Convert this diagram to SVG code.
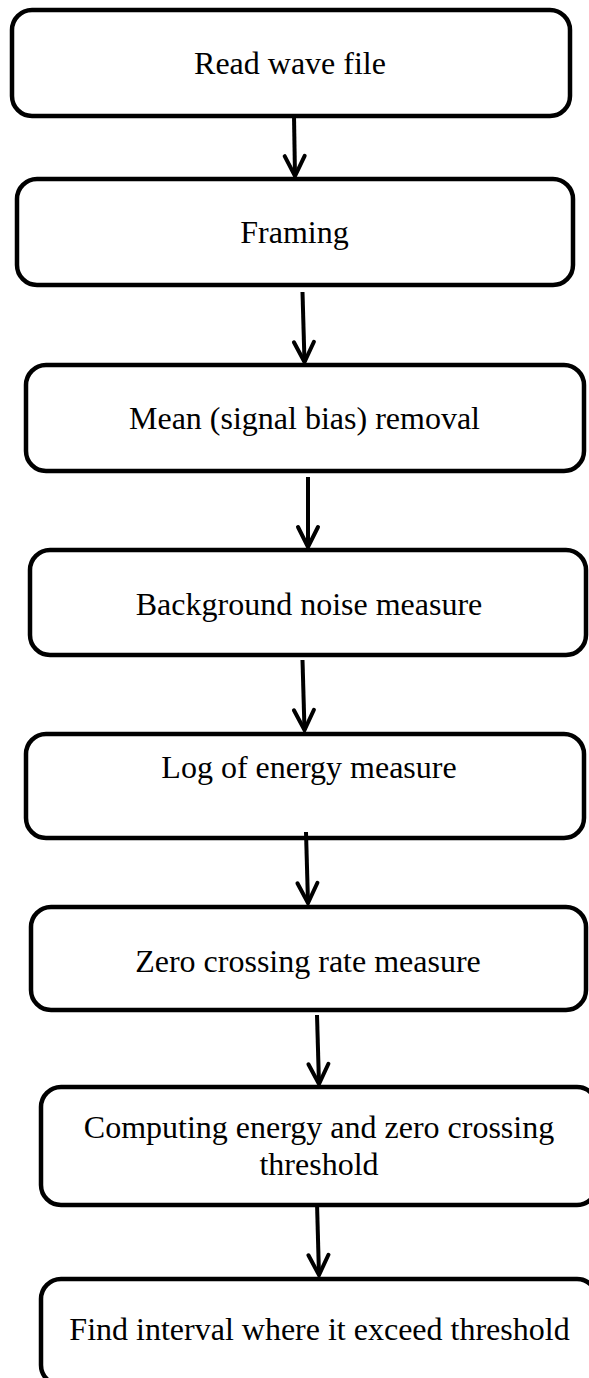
<svg xmlns="http://www.w3.org/2000/svg" width="589" height="1378" viewBox="0 0 589 1378">
  <style>
    .box { fill: #ffffff; stroke: #000000; stroke-width: 4.5; }
    .lbl { font-family: "Liberation Serif", "Times New Roman", serif; font-size: 32px; fill: #000000; text-anchor: middle; }
    .conn { stroke: #000000; stroke-width: 4; fill: none; }
    .head { stroke: #000000; stroke-width: 4; fill: none; stroke-linecap: round; stroke-linejoin: miter; }
  </style>
  <defs>
    <marker id="chev" markerUnits="userSpaceOnUse" viewBox="-26 -14 30 28" refX="0" refY="0" markerWidth="30" markerHeight="28" orient="auto" overflow="visible">
      <path class="head" d="M -20,-10 L 0,0 L -20,10"/>
    </marker>
  </defs>
  <rect width="589" height="1378" fill="#ffffff"/>

  <g id="n1"><rect class="box" x="12" y="10" width="558" height="106" rx="20"/><text class="lbl" x="290" y="74">Read wave file</text></g>
  <g id="n2"><rect class="box" x="17" y="179" width="556" height="106" rx="20"/><text class="lbl" x="294.5" y="243">Framing</text></g>
  <g id="n3"><rect class="box" x="26" y="365" width="558" height="106" rx="20"/><text class="lbl" x="304.5" y="429">Mean (signal bias) removal</text></g>
  <g id="n4"><rect class="box" x="30" y="550" width="556" height="105" rx="20"/><text class="lbl" x="309" y="615">Background noise measure</text></g>
  <g id="n5"><rect class="box" x="26" y="734" width="558" height="104" rx="20"/><text class="lbl" x="309" y="778">Log of energy measure</text></g>
  <g id="n6"><rect class="box" x="31" y="907" width="555" height="103" rx="20"/><text class="lbl" x="308" y="972">Zero crossing rate measure</text></g>
  <g id="n7"><rect class="box" x="41" y="1087" width="556" height="118" rx="20"/><text class="lbl" x="319" y="1138">Computing energy and zero crossing</text><text class="lbl" x="319" y="1175">threshold</text></g>
  <g id="n8"><rect class="box" x="41" y="1279" width="556" height="106" rx="20"/><text class="lbl" x="319.5" y="1340">Find interval where it exceed threshold</text></g>

  <g id="connectors">
    <line class="conn" x1="294" y1="116" x2="295" y2="176" marker-end="url(#chev)"/>
    <line class="conn" x1="302.5" y1="292" x2="304.5" y2="362" marker-end="url(#chev)"/>
    <line class="conn" x1="308" y1="477" x2="308" y2="547" marker-end="url(#chev)"/>
    <line class="conn" x1="302.5" y1="660" x2="304.5" y2="730" marker-end="url(#chev)"/>
    <line class="conn" x1="306" y1="832" x2="308" y2="903" marker-end="url(#chev)"/>
    <line class="conn" x1="317" y1="1015" x2="319" y2="1084" marker-end="url(#chev)"/>
    <line class="conn" x1="317" y1="1203" x2="319" y2="1275" marker-end="url(#chev)"/>
  </g>
</svg>
